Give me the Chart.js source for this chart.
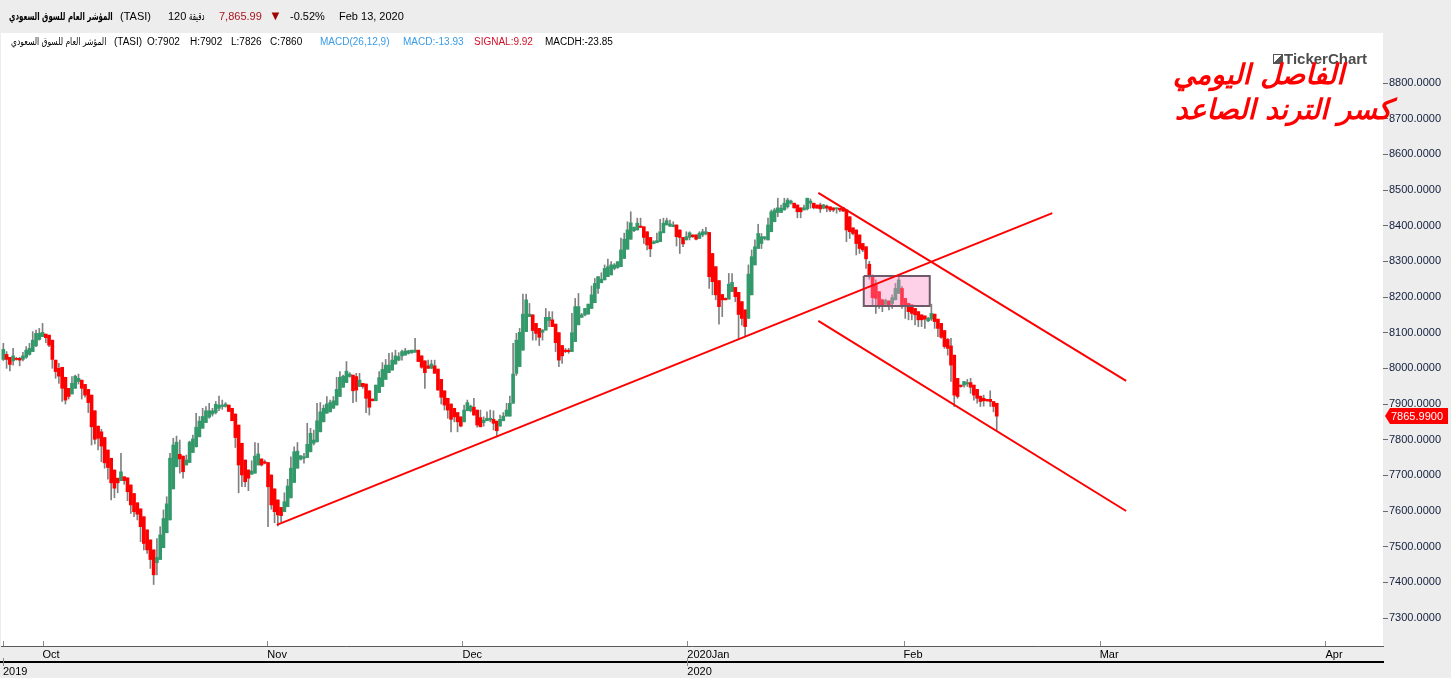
<!DOCTYPE html>
<html><head><meta charset="utf-8">
<script src="https://cdn.jsdelivr.net/npm/chart.js@4.4.1/dist/chart.umd.min.js"></script>
<style>
html,body{margin:0;padding:0;background:#ededed;overflow:hidden;}
#wrap{position:relative;width:1451px;height:678px;}
canvas{position:absolute;left:0;top:0;}
.t{position:absolute;white-space:nowrap;font-family:"Liberation Sans",Arial,sans-serif;color:#000;}
.h{top:10px;font-size:11px;line-height:13px;}
.s{top:36px;font-size:10px;line-height:12px;}
.ar{font-family:"DejaVu Sans",sans-serif;direction:rtl;unicode-bidi:isolate;transform-origin:left center;}
.note{font-family:"DejaVu Sans",sans-serif;font-weight:bold;font-style:italic;color:#ff0000;font-size:28px;line-height:28px;direction:rtl;unicode-bidi:isolate;}
</style></head><body>
<div id="wrap">
<canvas id="c" width="1451" height="678"></canvas>
<div class="t h ar" style="left:9px;font-weight:bold;transform:scaleX(0.64);">المؤشر العام للسوق السعودي</div>
<div class="t h" style="left:120px;">(TASI)</div>
<div class="t h" style="left:168px;">120</div>
<div class="t h ar" style="left:189px;transform:scaleX(0.62);">دقيقة</div>
<div class="t h" style="left:219px;color:#a8161e;">7,865.99</div>
<div class="t h" style="left:269px;top:9px;color:#a00000;font-size:13px;">&#9660;</div>
<div class="t h" style="left:290px;">-0.52%</div>
<div class="t h" style="left:339px;">Feb 13, 2020</div>
<div class="t s ar" style="left:11px;transform:scaleX(0.76);">المؤشر العام للسوق السعودي</div>
<div class="t s" style="left:114px;">(TASI)</div>
<div class="t s" style="left:147px;">O:7902</div>
<div class="t s" style="left:190px;">H:7902</div>
<div class="t s" style="left:231px;">L:7826</div>
<div class="t s" style="left:270px;">C:7860</div>
<div class="t s" style="left:320px;color:#3a9be6;">MACD(26,12,9)</div>
<div class="t s" style="left:403px;color:#3a9be6;">MACD:-13.93</div>
<div class="t s" style="left:474px;color:#d4102a;">SIGNAL:9.92</div>
<div class="t s" style="left:545px;">MACDH:-23.85</div>
<div style="position:absolute;left:1273px;top:54px;width:8px;height:8px;border:1px solid #555;background:linear-gradient(135deg,#fff 50%,#555 50%);"></div>
<div class="t" style="left:1284px;top:51px;font-size:15px;line-height:16px;font-weight:bold;color:#4d4d4d;">TickerChart</div>
<div class="t note" style="left:1173px;top:61px;">الفاصل اليومي</div>
<div class="t note" style="left:1175px;top:96px;">كسر الترند الصاعد</div>
</div>
<script>
const openP=[8025,8039,8031,8021,8028,8028,8025,8031,8039,8047,8063,8081,8089,8096,8093,8079,8023,8000,8003,7975,7944,7928,7944,7963,7967,7955,7941,7925,7881,7838,7822,7806,7771,7748,7715,7692,7685,7696,7693,7673,7649,7623,7606,7584,7547,7519,7491,7455,7464,7497,7539,7575,
7662,7724,7759,7754,7729,7736,7764,7780,7808,7832,7848,7863,7872,7876,7888,7893,7893,7897,7888,7872,7841,7790,7743,7715,7703,7706,7729,7746,7738,7736,7701,7662,7631,7610,7598,7612,7637,7680,7720,7745,7748,7750,7766,
7790,7794,7822,7850,7874,7878,7888,7897,7921,7947,7960,7977,7981,7977,7949,7958,7956,7937,7914,7909,7932,7949,7969,7988,7995,8012,8023,8035,8037,8042,8044,8045,8051,8035,8021,8007,8000,8007,7998,7969,7937,7916,7900,7888,7876,7864,7850,7881,7881,7891,7883,7862,7848,7853,7855,7857,7852,7838,7853,7866,7866,7902,7986,8005,
8051,8103,8145,8150,8126,8112,8101,8107,8134,8136,8124,8100,8064,8051,8051,8047,8075,8122,8143,8150,8152,8168,8184,8224,8240,8248,8257,8262,8280,8283,8285,8308,8334,8362,8386,8388,8399,8397,8383,8367,8350,8352,8355,8380,8402,8399,8397,8402,8388,8367,8360,8367,8374,8374,8364,8374,8377,8381,8322,8285,8246,
8207,8196,8194,8215,8227,8213,8187,8164,8140,8206,8290,8336,8350,8364,8360,8383,8411,8437,8437,8444,8453,8463,8463,8458,8450,8444,8447,8463,8463,8458,8458,8449,8455,8453,8450,8447,8449,8450,8444,8425,8394,8388,8374,8350,
8341,8292,8257,8234,8215,8192,8180,8189,8182,8192,8210,8224,8196,8182,8178,8168,8159,8150,8147,8133,8138,
8152,8138,8126,8106,8081,8063,8037,7972,7953,7953,7956,7960,7953,7941,7922,7916,7913,7913,7907,7902];
const highP=[8070,8047,8031,8056,8031,8031,8045,8061,8070,8103,8107,8112,8126,8096,8093,8079,8023,8014,8003,7975,7944,7977,7981,7984,7967,7955,7941,7925,7881,7838,7829,7806,7771,7748,7715,7692,7762,7696,7693,7673,7649,7623,7606,7584,7547,7519,7491,7523,7556,7603,7640,7762,
7804,7810,7799,7754,7757,7796,7813,7874,7865,7888,7893,7902,7888,7907,7922,7911,7904,7897,7888,7872,7841,7790,7743,7715,7741,7792,7790,7746,7743,7736,7701,7662,7631,7610,7651,7689,7752,7780,7792,7755,7762,7846,7832,
7827,7902,7904,7897,7921,7911,7921,7975,7991,7981,8019,7988,7981,7986,7986,7958,7956,7937,7914,7953,7991,8016,8025,8042,8044,8051,8044,8051,8056,8051,8051,8084,8051,8035,8021,8023,8023,8023,7998,7969,7937,7916,7900,7888,7876,7864,7897,7911,7897,7916,7883,7883,7864,7878,7883,7881,7852,7869,7876,7902,7922,8070,8098,8112,
8208,8208,8182,8150,8126,8112,8109,8168,8159,8159,8124,8100,8064,8056,8056,8154,8196,8210,8154,8168,8180,8231,8252,8257,8268,8290,8306,8299,8294,8299,8365,8379,8411,8439,8397,8421,8421,8397,8383,8367,8358,8379,8418,8421,8421,8416,8411,8402,8388,8367,8383,8383,8374,8374,8383,8390,8395,8381,8322,8285,8246,
8207,8198,8266,8266,8227,8213,8187,8164,8290,8332,8360,8404,8378,8369,8421,8444,8449,8477,8458,8477,8477,8472,8463,8458,8450,8458,8477,8475,8463,8458,8463,8460,8458,8453,8450,8450,8449,8450,8444,8425,8394,8388,8374,8350,
8341,8300,8262,8248,8215,8194,8194,8189,8206,8238,8257,8229,8196,8182,8178,8168,8159,8150,8147,8143,8180,
8152,8138,8126,8106,8084,8084,8037,7972,7953,7963,7969,7972,7953,7941,7922,7925,7913,7937,7907,7902];
const lowP=[8022,8000,7993,8009,8023,8007,8021,8028,8037,8047,8061,8079,8089,8072,8061,8000,7972,7958,7907,7900,7914,7928,7944,7956,7914,7919,7876,7785,7788,7771,7738,7720,7689,7631,7637,7651,7685,7675,7629,7593,7584,7575,7514,7491,7481,7439,7394,7421,7464,7497,7539,7575,
7662,7724,7706,7692,7729,7736,7764,7780,7808,7832,7848,7860,7866,7872,7881,7885,7891,7879,7853,7778,7651,7668,7668,7657,7703,7706,7729,7726,7732,7556,7605,7567,7558,7570,7598,7612,7637,7680,7720,7743,7734,7750,7766,
7785,7794,7822,7850,7874,7878,7888,7897,7921,7947,7960,7975,7904,7907,7949,7944,7876,7869,7909,7909,7932,7949,7969,7988,7995,8012,8021,8023,8037,8040,8042,8045,8019,8000,7944,8000,8000,7986,7939,7900,7883,7860,7822,7850,7822,7836,7850,7881,7878,7869,7835,7836,7838,7853,7850,7827,7808,7838,7853,7866,7866,7902,7980,8005,
8051,8103,8145,8079,8079,8064,8079,8107,8117,8117,8047,8005,8014,8044,8042,8047,8075,8122,8143,8147,8152,8168,8184,8210,8240,8248,8257,8262,8276,8280,8285,8308,8334,8362,8383,8388,8395,8350,8332,8313,8349,8352,8355,8380,8402,8397,8397,8343,8322,8341,8360,8360,8367,8360,8364,8369,8374,8224,8206,8192,8124,
8145,8192,8194,8215,8187,8082,8121,8089,8140,8206,8290,8336,8336,8360,8360,8383,8411,8425,8437,8444,8449,8460,8449,8422,8422,8444,8444,8449,8447,8449,8437,8447,8439,8439,8439,8435,8439,8439,8355,8364,8374,8318,8322,8327,
8280,8250,8178,8154,8168,8159,8178,8164,8168,8192,8210,8168,8140,8136,8136,8122,8117,8117,8112,8131,8134,
8112,8089,8084,8056,8037,7963,7893,7916,7947,7947,7949,7930,7911,7902,7893,7894,7907,7893,7878,7826];
const closeP=[8053,8025,8011,8035,8025,8023,8035,8051,8056,8079,8098,8098,8101,8086,8065,8025,7991,7978,7944,7911,7921,7958,7978,7972,7944,7925,7904,7836,7801,7804,7782,7735,7722,7679,7664,7679,7710,7685,7654,7617,7598,7591,7556,7509,7491,7464,7421,7470,7533,7579,7620,7748,
7785,7793,7746,7710,7743,7793,7802,7835,7852,7865,7881,7881,7881,7899,7897,7897,7900,7879,7853,7806,7729,7701,7682,7692,7712,7754,7760,7729,7734,7668,7617,7598,7589,7587,7626,7670,7720,7766,7768,7755,7752,7787,7818,
7799,7853,7878,7888,7900,7904,7909,7941,7975,7978,7992,7984,7937,7939,7967,7949,7916,7891,7909,7953,7974,7997,8009,8009,8023,8035,8033,8047,8049,8049,8051,8051,8019,8003,7988,8000,8012,7986,7939,7919,7897,7883,7857,7864,7850,7838,7883,7904,7894,7869,7841,7836,7855,7860,7860,7846,7825,7857,7866,7883,7902,7984,8079,8101,
8152,8192,8152,8106,8098,8087,8107,8143,8143,8117,8072,8023,8035,8047,8047,8100,8173,8173,8150,8168,8180,8206,8238,8257,8250,8280,8285,8290,8290,8299,8332,8362,8388,8408,8395,8407,8395,8367,8346,8335,8355,8358,8383,8407,8414,8405,8402,8369,8367,8349,8369,8380,8369,8362,8379,8383,8383,8257,8243,8206,8173,
8192,8192,8236,8241,8201,8151,8140,8117,8264,8313,8341,8378,8369,8369,8402,8439,8444,8450,8449,8463,8472,8469,8450,8439,8439,8450,8477,8469,8450,8449,8447,8458,8449,8444,8444,8450,8444,8441,8388,8383,8378,8350,8336,8332,
8307,8257,8198,8196,8178,8178,8190,8173,8198,8224,8248,8173,8173,8159,8154,8150,8136,8136,8138,8140,8154,
8131,8112,8087,8061,8056,8009,7925,7921,7949,7963,7960,7947,7925,7916,7907,7909,7909,7907,7893,7866];

const lastPrice = 7865.99;
const monthLabels = ['Oct','Nov','Dec','2020Jan','Feb','Mar','Apr'];
const monthAt = [12.0, 80.8, 140.5, 209.3, 275.5, 335.5, 404.6];
const yearLabels = ['2019','2020'];
const yearAt = [-0.1, 209.3];
const priceTicks = [7300,7400,7500,7600,7700,7800,7900,8000,8100,8200,8300,8400,8500,8600,8700,8800];
const xRange = [-0.70, 422.2];
const yRange = [7221.5, 8940.2];
const riseLine = [{x:83.7,y:7561},{x:321.0,y:8435}];
const upperLine = [{x:249.4,y:8492},{x:343.6,y:7965}];
const lowerLine = [{x:249.4,y:8133},{x:343.6,y:7600}];
const zoneX = [263.3, 283.5];
const zoneY = [8175, 8259];

const UP = '#33996a', DOWN = '#ff0000';
const bodies = closeP.map((c,i)=>({x:i, y:[openP[i], c]}));
const wicks = closeP.map((c,i)=>({x:i, y:[lowP[i], highP[i]]}));
const bodyColors = closeP.map((c,i)=> c >= openP[i] ? UP : DOWN);
const zoneShape = [{x:zoneX[0],y:zoneY[1]},{x:zoneX[1],y:zoneY[1]},{x:zoneX[1],y:zoneY[0]},{x:zoneX[0],y:zoneY[0]},{x:zoneX[0],y:zoneY[1]}];

const FONT = '"Liberation Sans", Arial, sans-serif';
Chart.defaults.font.family = FONT;

const deco = {
  id:'deco',
  beforeDraw(c){
    const {ctx, chartArea:a} = c;
    ctx.save();
    ctx.fillStyle = '#ededed'; ctx.fillRect(0,0,c.width,c.height);
    ctx.fillStyle = '#ffffff'; ctx.fillRect(a.left,a.top,a.right-a.left,a.bottom-a.top);
    ctx.restore();
  },
  afterDraw(c){
    const {ctx} = c; const x = c.scales.x, x2 = c.scales.x2, y = c.scales.y;
    ctx.save();
    ctx.strokeStyle = '#8a8a8a'; ctx.lineWidth = 1;
    monthAt.concat([yearAt[0]]).forEach(v=>{
      const px = Math.round(x.getPixelForValue(v)) + 0.5;
      ctx.beginPath(); ctx.moveTo(px, x.top - 5); ctx.lineTo(px, x.top); ctx.stroke();
    });
    yearAt.forEach(v=>{
      const px = Math.round(x2.getPixelForValue(v)) + 0.5;
      ctx.beginPath(); ctx.moveTo(px, x2.top - 4); ctx.lineTo(px, x2.top + 4); ctx.stroke();
    });
    const py = Math.round(y.getPixelForValue(lastPrice));
    const l = c.chartArea.right + 2, r = c.width - 3;
    ctx.fillStyle = '#ff0000';
    ctx.beginPath(); ctx.moveTo(l, py); ctx.lineTo(l+5, py-8); ctx.lineTo(r, py-8); ctx.lineTo(r, py+8); ctx.lineTo(l+5, py+8); ctx.closePath(); ctx.fill();
    ctx.fillStyle = '#ffffff'; ctx.font = '11px ' + FONT; ctx.textBaseline = 'middle'; ctx.textAlign = 'left';
    ctx.fillText(lastPrice.toFixed(4), l + 6, py + 1);
    ctx.restore();
  }
};

new Chart(document.getElementById('c'), {
  type: 'bar',
  data: { datasets: [
    {type:'line', data: riseLine, borderColor:'#ff0000', borderWidth:2, pointRadius:0, fill:false, order:-2},
    {type:'line', data: upperLine, borderColor:'#ff0000', borderWidth:2, pointRadius:0, fill:false, order:-2},
    {type:'line', data: lowerLine, borderColor:'#ff0000', borderWidth:2, pointRadius:0, fill:false, order:-2},
    {type:'line', data: zoneShape, borderColor:'#6e5a68', borderWidth:2, backgroundColor:'rgba(255,140,200,0.4)', fill:'shape', pointRadius:0, tension:0, order:-1},
    {type:'bar', data: bodies, backgroundColor: bodyColors, barThickness:3, grouped:false, minBarLength:1, borderWidth:0, order:1},
    {type:'bar', data: wicks, backgroundColor:'#808080', barThickness:1, grouped:false, borderWidth:0, order:2}
  ]},
  options: {
    responsive:false, animation:false, devicePixelRatio:1,
    layout:{padding:{top:33, left:0, right:0, bottom:0}},
    plugins:{legend:{display:false}, tooltip:{enabled:false}},
    scales:{
      x:{type:'linear', position:'bottom', weight:0, min:xRange[0], max:xRange[1], offset:false,
        grid:{display:false, drawTicks:false, tickLength:0}, border:{display:true, color:'#5a5a5a', width:1},
        ticks:{autoSkip:false, maxRotation:0, align:'start', padding:2, color:'#000', font:{size:11},
          callback:(v,i)=>monthLabels[i]},
        afterBuildTicks:s=>{ s.ticks = monthAt.map(v=>({value:v})); },
        afterFit:s=>{ s.height = 16; }},
      x2:{type:'linear', position:'bottom', weight:1, min:xRange[0], max:xRange[1], offset:false,
        grid:{display:false, drawTicks:false, tickLength:0}, border:{display:true, color:'#000', width:2},
        ticks:{autoSkip:false, maxRotation:0, align:'start', padding:3, color:'#000', font:{size:11},
          callback:(v,i)=>yearLabels[i]},
        afterBuildTicks:s=>{ s.ticks = yearAt.map(v=>({value:v})); },
        afterFit:s=>{ s.height = 16; }},
      y:{type:'linear', position:'right', min:yRange[0], max:yRange[1],
        grid:{drawOnChartArea:false, drawTicks:true, tickLength:5, color:'#6b6b6b'},
        border:{display:false},
        ticks:{padding:1, color:'#101e3c', font:{size:11}, callback:v=>Number(v).toFixed(4)},
        afterBuildTicks:s=>{ s.ticks = priceTicks.map(v=>({value:v})); },
        afterFit:s=>{ s.width = 68; }}
    }
  },
  plugins:[deco]
});
</script>
</body></html>
